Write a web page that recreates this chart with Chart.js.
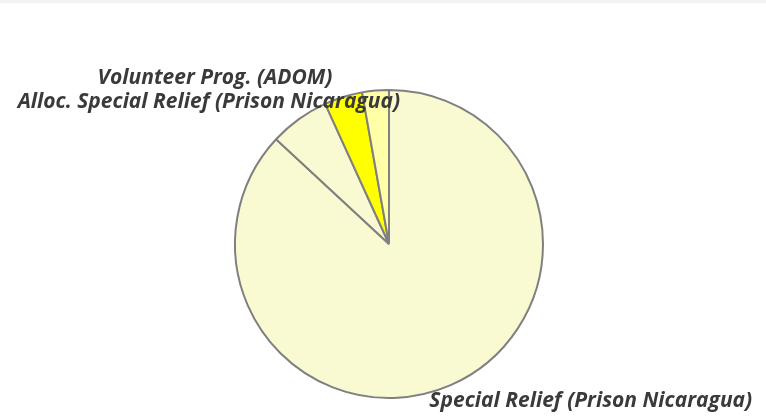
<!DOCTYPE html>
<html>
<head>
<meta charset="utf-8">
<script src="https://cdn.jsdelivr.net/npm/chart.js@4/dist/chart.umd.min.js"></script>
<style>
    body { margin: 0; background: #fff; }
    .wrap { width: 766px; height: 417px; border-top: 3px solid #f2f2f2; }
</style>
</head>
<body>
<div class="wrap">
    <canvas id="pie_chart" width="766" height="417"></canvas>
</div>
<script>
// slice data (percent of total)
const categories = ['Special Relief (Prison Nicaragua)', '', 'Volunteer Prog. (ADOM)', 'Alloc. Special Relief (Prison Nicaragua)'];
const values = [86.9, 6.3, 4.0, 2.8];
const sliceColors = ['#fafad2', '#fafad2', '#ffff00', '#ffffa8'];

// where each label sits, relative to the pie centre, in units of the radius
const labelOffsets = [[1.31, 1.06], null, [-1.13, -1.04], [-1.17, -0.88]];

const outsideLabels = {
    id: 'outsideLabels',
    afterDraw(chart) {
        const ctx = chart.ctx;
        const arcs = chart.getDatasetMeta(0).data;
        ctx.save();
        ctx.font = 'italic bold 21px "Open Sans"';
        ctx.fillStyle = '#3a3a3a';
        ctx.textAlign = 'center';
        ctx.textBaseline = 'alphabetic';
        arcs.forEach((arc, i) => {
            if (!labelOffsets[i] || !categories[i]) return;
            const r = arc.outerRadius;
            ctx.fillText(categories[i], arc.x + labelOffsets[i][0] * r, arc.y + labelOffsets[i][1] * r);
        });
        ctx.restore();
    }
};

new Chart(document.getElementById('pie_chart'), {
    type: 'pie',
    data: {
        labels: categories,
        datasets: [{
            data: values,
            backgroundColor: sliceColors,
            borderColor: '#808080',
            borderWidth: 2
        }]
    },
    options: {
        responsive: false,
        animation: false,
        layout: { padding: { top: 86, bottom: 21, left: 234, right: 222 } },
        plugins: {
            legend: { display: false },
            tooltip: { enabled: false }
        }
    },
    plugins: [outsideLabels]
});
</script>
</body>
</html>
